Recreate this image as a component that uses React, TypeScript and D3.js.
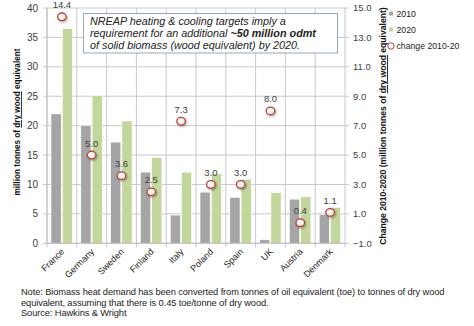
import React from "react";
import * as d3 from "d3";

const countries = ["France", "Germany", "Sweden", "Finland", "Italy", "Poland", "Spain", "UK", "Austria", "Denmark"];
const values2010 = [22.0, 20.0, 17.2, 12.1, 4.8, 8.7, 7.8, 0.6, 7.5, 4.9];
const values2020 = [36.5, 25.1, 20.8, 14.6, 12.1, 11.8, 10.9, 8.6, 7.9, 6.1];
const change = [14.4, 5.0, 3.6, 2.5, 7.3, 3.0, 3.0, 8.0, 0.4, 1.1];
const leftTicks = [0, 5, 10, 15, 20, 25, 30, 35, 40];
const rightTicks = [-1, 1, 3, 5, 7, 9, 11, 13, 15];
const seriesNames = ["2010", "2020"];
const noteLines = [
  "Note: Biomass heat demand has been converted from tonnes of oil equivalent (toe) to tonnes of dry wood",
  "equivalent, assuming that there is 0.45 toe/tonne of dry wood.",
  "Source: Hawkins & Wright",
];

const W = 474, H = 326;
const L = 47, R = 345, T = 8, B = 243.3;
const GRAY = "#a5a5a5";
const GREEN = "#c3d69b";
const GRID = "#c9c9c9";
const TXT = "#404040";
const FONT = "'Liberation Sans', Arial, sans-serif";

export default function App() {
  const x0 = d3.scaleBand<string>().domain(countries).range([L, R]).paddingInner(0).paddingOuter(0);
  const step = x0.step();
  const x1 = d3.scaleBand<string>().domain(seriesNames).range([step * 0.135, step * 0.855]).paddingInner(0.1);
  const yL = d3.scaleLinear().domain([0, 40]).range([B, T]);
  const yR = d3.scaleLinear().domain([-1, 15]).range([B, T]);
  const series = [values2010, values2020];
  const colors = [GRAY, GREEN];

  return (
    <svg width={W} height={H} style={{ position: "absolute", left: 0, top: 0, background: "#fff" }} fontFamily={FONT}>
      <defs>
        <filter id="sh" x="-50%" y="-50%" width="200%" height="200%">
          <feDropShadow dx="1" dy="1.2" stdDeviation="0.8" floodColor="#000" floodOpacity="0.35" />
        </filter>
        <radialGradient id="mk" cx="40%" cy="35%" r="70%">
          <stop offset="0%" stopColor="#ffffff" />
          <stop offset="100%" stopColor="#e6e2da" />
        </radialGradient>
      </defs>
      <rect width={W} height={H} fill="#fff" />
      {leftTicks.map((t) => (
        <line key={"h" + t} x1={L - 4} x2={R + 4} y1={yL(t)} y2={yL(t)} stroke={GRID} strokeWidth={1} />
      ))}
      {countries.map((c) => (
        <line key={"v" + c} x1={x0(c)!} x2={x0(c)!} y1={T} y2={B + 4} stroke={GRID} strokeWidth={1} />
      ))}
      <line x1={R} x2={R} y1={T} y2={B + 4} stroke={GRID} strokeWidth={1} />
      {countries.map((c, i) =>
        series.map((s, j) => (
          <rect
            key={c + j}
            x={x0(c)! + x1(seriesNames[j])!}
            y={yL(s[i])}
            width={x1.bandwidth()}
            height={yL(0) - yL(s[i])}
            fill={colors[j]}
            stroke="#ffffff"
            strokeWidth={0.6}
          />
        ))
      )}
      <line x1={L} x2={L} y1={T} y2={B} stroke="#bfbfbf" />
      <line x1={L} x2={R} y1={B} y2={B} stroke="#bfbfbf" />
      {leftTicks.map((t) => (
        <text key={"lt" + t} x={L - 9} y={yL(t)} dy="0.35em" textAnchor="end" fontSize={10} fill={TXT}>
          {t}
        </text>
      ))}
      {rightTicks.map((t) => (
        <text key={"rt" + t} x={R + 8} y={yR(t)} dy="0.35em" textAnchor="start" fontSize={9.5} fill={TXT}>
          {d3.format(".1f")(t)}
        </text>
      ))}
      {countries.map((c, i) => {
        const cx = x0(c)! + step / 2;
        const cy = yR(change[i]);
        return (
          <g key={"m" + c}>
            <ellipse cx={cx} cy={cy} rx={4.3} ry={3.8} fill="url(#mk)" stroke="#b8403c" strokeWidth={1.3} filter="url(#sh)" />
            <text x={cx} y={cy - 8.5} textAnchor="middle" fontSize={9.5} fill={TXT}>
              {d3.format(".1f")(change[i])}
            </text>
          </g>
        );
      })}
      {countries.map((c) => {
        const cx = x0(c)! + step / 2 + 3;
        const cy = B + 9;
        return (
          <text key={"xl" + c} x={cx} y={cy} textAnchor="end" fontSize={9} fill="#222" transform={`rotate(-45 ${cx} ${cy})`}>
            {c}
          </text>
        );
      })}
      <text transform={`translate(20 ${122}) rotate(-90)`} textAnchor="middle" fontSize={8.2} fontWeight="bold" fill="#111">
        million tonnes of <tspan textDecoration="underline">dry wood</tspan> equivalent
      </text>
      <text transform={`translate(386 ${126}) rotate(-90)`} textAnchor="middle" fontSize={8.6} fontWeight="bold" fill="#111">
        Change 2010-2020 (million tonnes of <tspan textDecoration="underline">dry wood</tspan> equivalent)
      </text>
      <rect x={389} y={11.5} width={4} height={4} fill={GRAY} />
      <text x={396.5} y={13.5} dy="0.35em" fontSize={8.7} fill="#222">2010</text>
      <rect x={389} y={27.5} width={4} height={4} fill={GREEN} />
      <text x={396.5} y={29.5} dy="0.35em" fontSize={8.7} fill="#222">2020</text>
      <circle cx={391} cy={46} r={3.2} fill="#fff" stroke="#b8403c" strokeWidth={1} />
      <text x={396.5} y={46} dy="0.35em" fontSize={8.7} fill="#222">change 2010-20</text>
      <rect x={83.5} y={13.5} width={254} height={39.5} fill="#fff" stroke="#8fa9bb" strokeWidth={1} />
      <text x={90} y={25} fontSize={10.8} fontStyle="italic" fill="#222">
        NREAP heating &amp; cooling targets imply a
      </text>
      <text x={90} y={37} fontSize={10.8} fontStyle="italic" fill="#222">
        requirement for an additional <tspan fontWeight="bold">~50 million odmt</tspan>
      </text>
      <text x={90} y={48.5} fontSize={10.8} fontStyle="italic" fill="#222">
        of solid biomass (wood equivalent) by 2020.
      </text>
      {noteLines.map((l, i) => (
        <text key={"n" + i} x={21} y={295 + i * 10.5} fontSize={9.3} fill="#222" letterSpacing={-0.1}>
          {l}
        </text>
      ))}
    </svg>
  );
}
